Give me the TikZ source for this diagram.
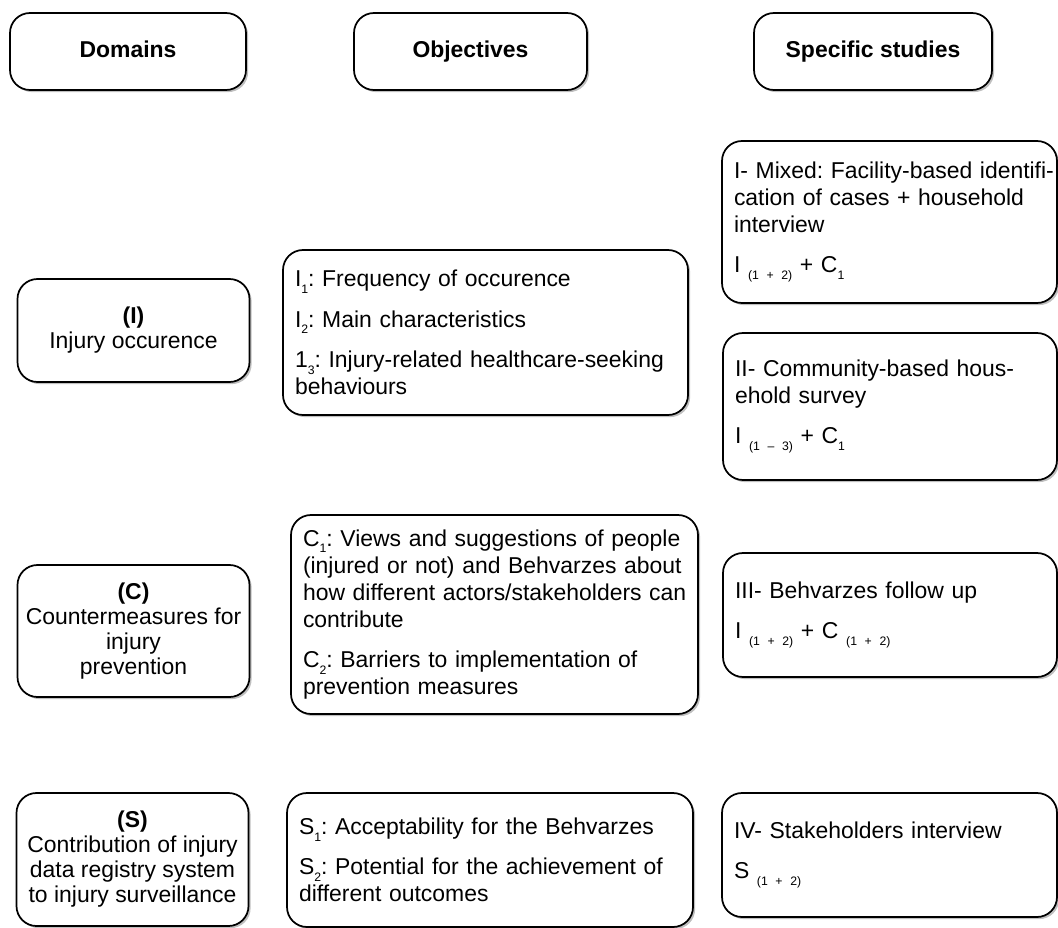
\documentclass[tikz,border=0pt]{standalone}
\usepackage{fontspec}
\setmainfont{Liberation Sans}
\usetikzlibrary{shadows}

\tikzset{
  box/.style={draw, line width=1.3pt, rounded corners=15pt, fill=white,
    drop shadow={shadow xshift=1.6pt, shadow yshift=-1.6pt, opacity=.5}},
  headbox/.style={box, minimum height=57.75pt, text height=12.5pt, text depth=3.5pt,
    font=\fontsize{17.2}{20}\selectfont\bfseries},
  dombox/.style={box, align=center, inner sep=2pt, minimum width=174pt,
    font=\fontsize{17.2}{18.75}\selectfont},
  listbox/.style={box, align=left, inner xsep=9pt,
    font=\fontsize{17.2}{20.25}\selectfont},
}
% low small subscripts as in the figure
\newcommand{\lsub}[1]{\raisebox{-5pt}{\fontsize{9.2}{10}\selectfont #1}}

\begin{document}
\frenchspacing
\begin{tikzpicture}[x=0.75pt,y=-0.75pt]
\useasboundingbox (0,0) rectangle (1058,928);

% column heads
\node[headbox, minimum width=177pt]   (hdom)  at (128,51.5)   {Domains};
\node[headbox, minimum width=174.75pt] (hobj) at (470.5,51.5) {Objectives};
\node[headbox, minimum width=178.5pt] (hspec) at (873,51.5)   {Specific studies};

% domains
\node[dombox, minimum height=77.25pt] (domI) at (133.5,330.5)
  {\textbf{(I)}\\Injury occurence};
\node[dombox, minimum height=99pt] (domC) at (133.5,631)
  {\textbf{(C)}\\Countermeasures for\\injury\\prevention};
\node[dombox, minimum height=99.75pt] (domS) at (132.5,859.5)
  {\textbf{(S)}\\Contribution of injury\\data registry system\\to injury surveillance};

% objectives
\node[listbox, text width=285.75pt, minimum height=123.75pt] (objI) at (485.5,332.5)
  {I\lsub{1}: Frequency of occurence\\[10pt]
   I\lsub{2}: Main characteristics\\[10pt]
   \mbox{1\lsub{3}: Injury-related healthcare-seeking}\\behaviours};
\node[listbox, text width=287.25pt, minimum height=149.25pt] (objC) at (494.5,614.5)
  {\mbox{C\lsub{1}: Views and suggestions of people}\\
   \mbox{(injured or not) and Behvarzes about}\\
   \mbox{how different actors/stakeholders can}\\contribute\\[10pt]
   C\lsub{2}: Barriers to implementation of\\prevention measures};
\node[listbox, text width=286.5pt, minimum height=100.5pt] (objS) at (490,860)
  {S\lsub{1}: Acceptability for the Behvarzes\\[10pt]
   \mbox{S\lsub{2}: Potential for the achievement of}\\different outcomes};

% specific studies
\node[listbox, text width=233.25pt, minimum height=121.5pt] (stI) at (889.5,222)
  {\mbox{I- Mixed: Facility-based identifi-}\\
   \mbox{cation of cases + household}\\interview\\[10pt]
   I \lsub{(1 + 2)} + C\lsub{1}};
\node[listbox, text width=232.5pt, minimum height=110.25pt] (stII) at (890,406.5)
  {\mbox{II- Community-based hous-}\\ehold survey\\[10pt]
   I \lsub{(1 -- 3)} + C\lsub{1}};
\node[listbox, text width=232.5pt, minimum height=93pt] (stIII) at (890,615)
  {III- Behvarzes follow up\\[10pt]
   I \lsub{(1 + 2)} + C \lsub{(1 + 2)}};
\node[listbox, text width=233.25pt, minimum height=93pt] (stIV) at (889.5,855)
  {IV- Stakeholders interview\\[10pt]
   S \lsub{(1 + 2)}};
\end{tikzpicture}
\end{document}
